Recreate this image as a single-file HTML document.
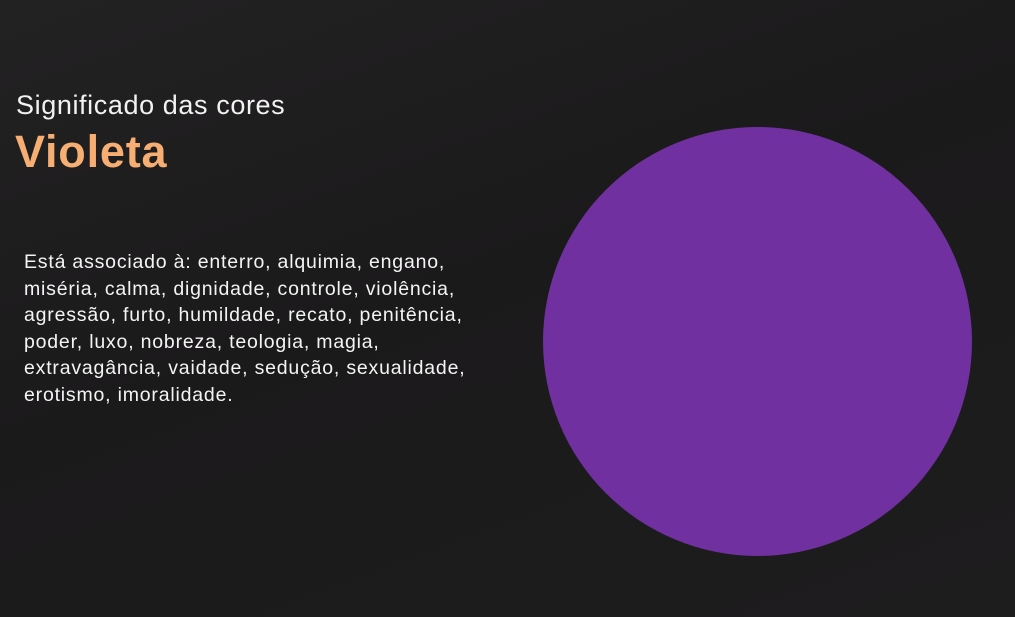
<!DOCTYPE html>
<html><head><meta charset="utf-8"><style>
html,body{margin:0;padding:0;}
body{width:1015px;height:617px;overflow:hidden;background:#1d1c1d;position:relative;font-family:"Liberation Sans",sans-serif;}
.bg{position:absolute;inset:0;background:linear-gradient(160deg,#232223 0%,#1b1a1b 45%,#1e1d1e 100%);}
.sub{position:absolute;left:16px;top:90px;color:#f2f2f2;font-size:27px;letter-spacing:0.6px;}
.title{position:absolute;left:15px;top:126px;color:#f6ae72;font-size:45px;font-weight:bold;letter-spacing:0.8px;}
.body{position:absolute;left:24px;top:249px;color:#f4f4f4;font-size:19.5px;line-height:26.6px;width:500px;letter-spacing:0.8px;}
.circle{position:absolute;left:543px;top:127px;width:429px;height:429px;border-radius:50%;background:#7030a0;}
</style></head><body>
<div class="bg"></div>
<div class="sub">Significado das cores</div>
<div class="title">Violeta</div>
<div class="body">Está associado à: enterro, alquimia, engano,<br>miséria, calma, dignidade, controle, violência,<br>agressão, furto, humildade, recato, penitência,<br>poder, luxo, nobreza, teologia, magia,<br>extravagância, vaidade, sedução, sexualidade,<br>erotismo, imoralidade.</div>
<div class="circle"></div>
</body></html>
